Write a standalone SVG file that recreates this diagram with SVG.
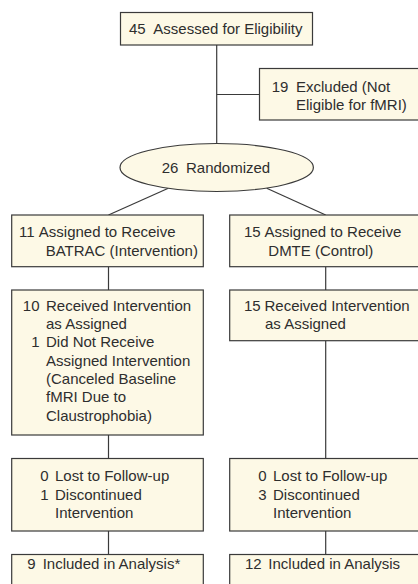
<svg xmlns="http://www.w3.org/2000/svg" width="418" height="584" viewBox="0 0 418 584">
<style>
.box{fill:#fdf9e6;stroke:#3a3a3a;stroke-width:1.2}
.ln{stroke:#3a3a3a;stroke-width:1.2;fill:none}
text{font-family:"Liberation Sans",Arial,Helvetica,sans-serif;font-size:15px;fill:#2e2e2e}
.r{text-anchor:end}
</style>
<rect width="418" height="584" fill="#ffffff"/>
<g id="connectors">
<line class="ln" x1="216.7" y1="45" x2="216.7" y2="143.5"/>
<line class="ln" x1="216.7" y1="94.5" x2="259.5" y2="94.5"/>
<line class="ln" x1="168.3" y1="188.3" x2="108.5" y2="215"/>
<line class="ln" x1="266.7" y1="188.3" x2="325.7" y2="215"/>
<line class="ln" x1="108.5" y1="266.7" x2="108.5" y2="290"/>
<line class="ln" x1="325.7" y1="266.7" x2="325.7" y2="290"/>
<line class="ln" x1="108.5" y1="435" x2="108.5" y2="458.5"/>
<line class="ln" x1="325.7" y1="340.7" x2="325.7" y2="458.5"/>
<line class="ln" x1="108.5" y1="531" x2="108.5" y2="554.5"/>
<line class="ln" x1="325.7" y1="531" x2="325.7" y2="554.5"/>
</g>
<g id="assessed">
<rect class="box" x="120.5" y="12.5" width="192" height="32.5"/>
<text y="34"><tspan x="129">45</tspan><tspan x="153.3">Assessed for Eligibility</tspan></text>
</g>
<g id="excluded">
<rect class="box" x="259.5" y="68.5" width="192" height="51.5"/>
<text y="91.5"><tspan x="271.7">19</tspan><tspan x="296">Excluded (Not</tspan></text>
<text x="296" y="110">Eligible for fMRI)</text>
</g>
<g id="randomized">
<ellipse class="box" cx="216.7" cy="167.5" rx="96.7" ry="24"/>
<text y="173"><tspan x="161.7">26</tspan><tspan x="186">Randomized</tspan></text>
</g>
<g id="assigned-batrac">
<rect class="box" x="11.7" y="215" width="191.6" height="51.7"/>
<text y="236.5"><tspan x="19">11</tspan><tspan x="38.8">Assigned to Receive</tspan></text>
<text x="45.7" y="255.5">BATRAC (Intervention)</text>
</g>
<g id="assigned-dmte">
<rect class="box" x="229.7" y="215" width="191.6" height="51.7"/>
<text y="236.5"><tspan x="244">15</tspan><tspan x="264.5">Assigned to Receive</tspan></text>
<text x="268.3" y="255.5">DMTE (Control)</text>
</g>
<g id="received-batrac">
<rect class="box" x="11.7" y="290" width="191.6" height="145"/>
<text class="r" x="39.5" y="310.7">10</text>
<text x="46" y="310.7">Received Intervention</text>
<text x="46" y="329">as Assigned</text>
<text class="r" x="39.5" y="347.3">1</text>
<text x="46" y="347.3">Did Not Receive</text>
<text x="46" y="365.6">Assigned Intervention</text>
<text x="46" y="383.9">(Canceled Baseline</text>
<text x="46" y="402.2">fMRI Due to</text>
<text x="46" y="420.5">Claustrophobia)</text>
</g>
<g id="received-dmte">
<rect class="box" x="229.7" y="290" width="191.6" height="50.7"/>
<text y="310.7"><tspan x="244">15</tspan><tspan x="264.5">Received Intervention</tspan></text>
<text x="265" y="329">as Assigned</text>
</g>
<g id="followup-batrac">
<rect class="box" x="11.7" y="458.5" width="191.6" height="72.5"/>
<text class="r" x="48.5" y="481">0</text>
<text x="55" y="481">Lost to Follow-up</text>
<text class="r" x="48.5" y="499.5">1</text>
<text x="55" y="499.5">Discontinued</text>
<text x="55" y="518">Intervention</text>
</g>
<g id="followup-dmte">
<rect class="box" x="229.7" y="458.5" width="191.6" height="72.5"/>
<text class="r" x="266.5" y="481">0</text>
<text x="273" y="481">Lost to Follow-up</text>
<text class="r" x="266.5" y="499.5">3</text>
<text x="273" y="499.5">Discontinued</text>
<text x="273" y="518">Intervention</text>
</g>
<g id="analysis-batrac">
<rect class="box" x="11.7" y="554.5" width="191.6" height="45"/>
<text y="569"><tspan x="27.3">9</tspan><tspan x="42.7">Included in Analysis*</tspan></text>
</g>
<g id="analysis-dmte">
<rect class="box" x="229.7" y="554.5" width="191.6" height="45"/>
<text y="569"><tspan x="245">12</tspan><tspan x="268.3">Included in Analysis</tspan></text>
</g>
</svg>
